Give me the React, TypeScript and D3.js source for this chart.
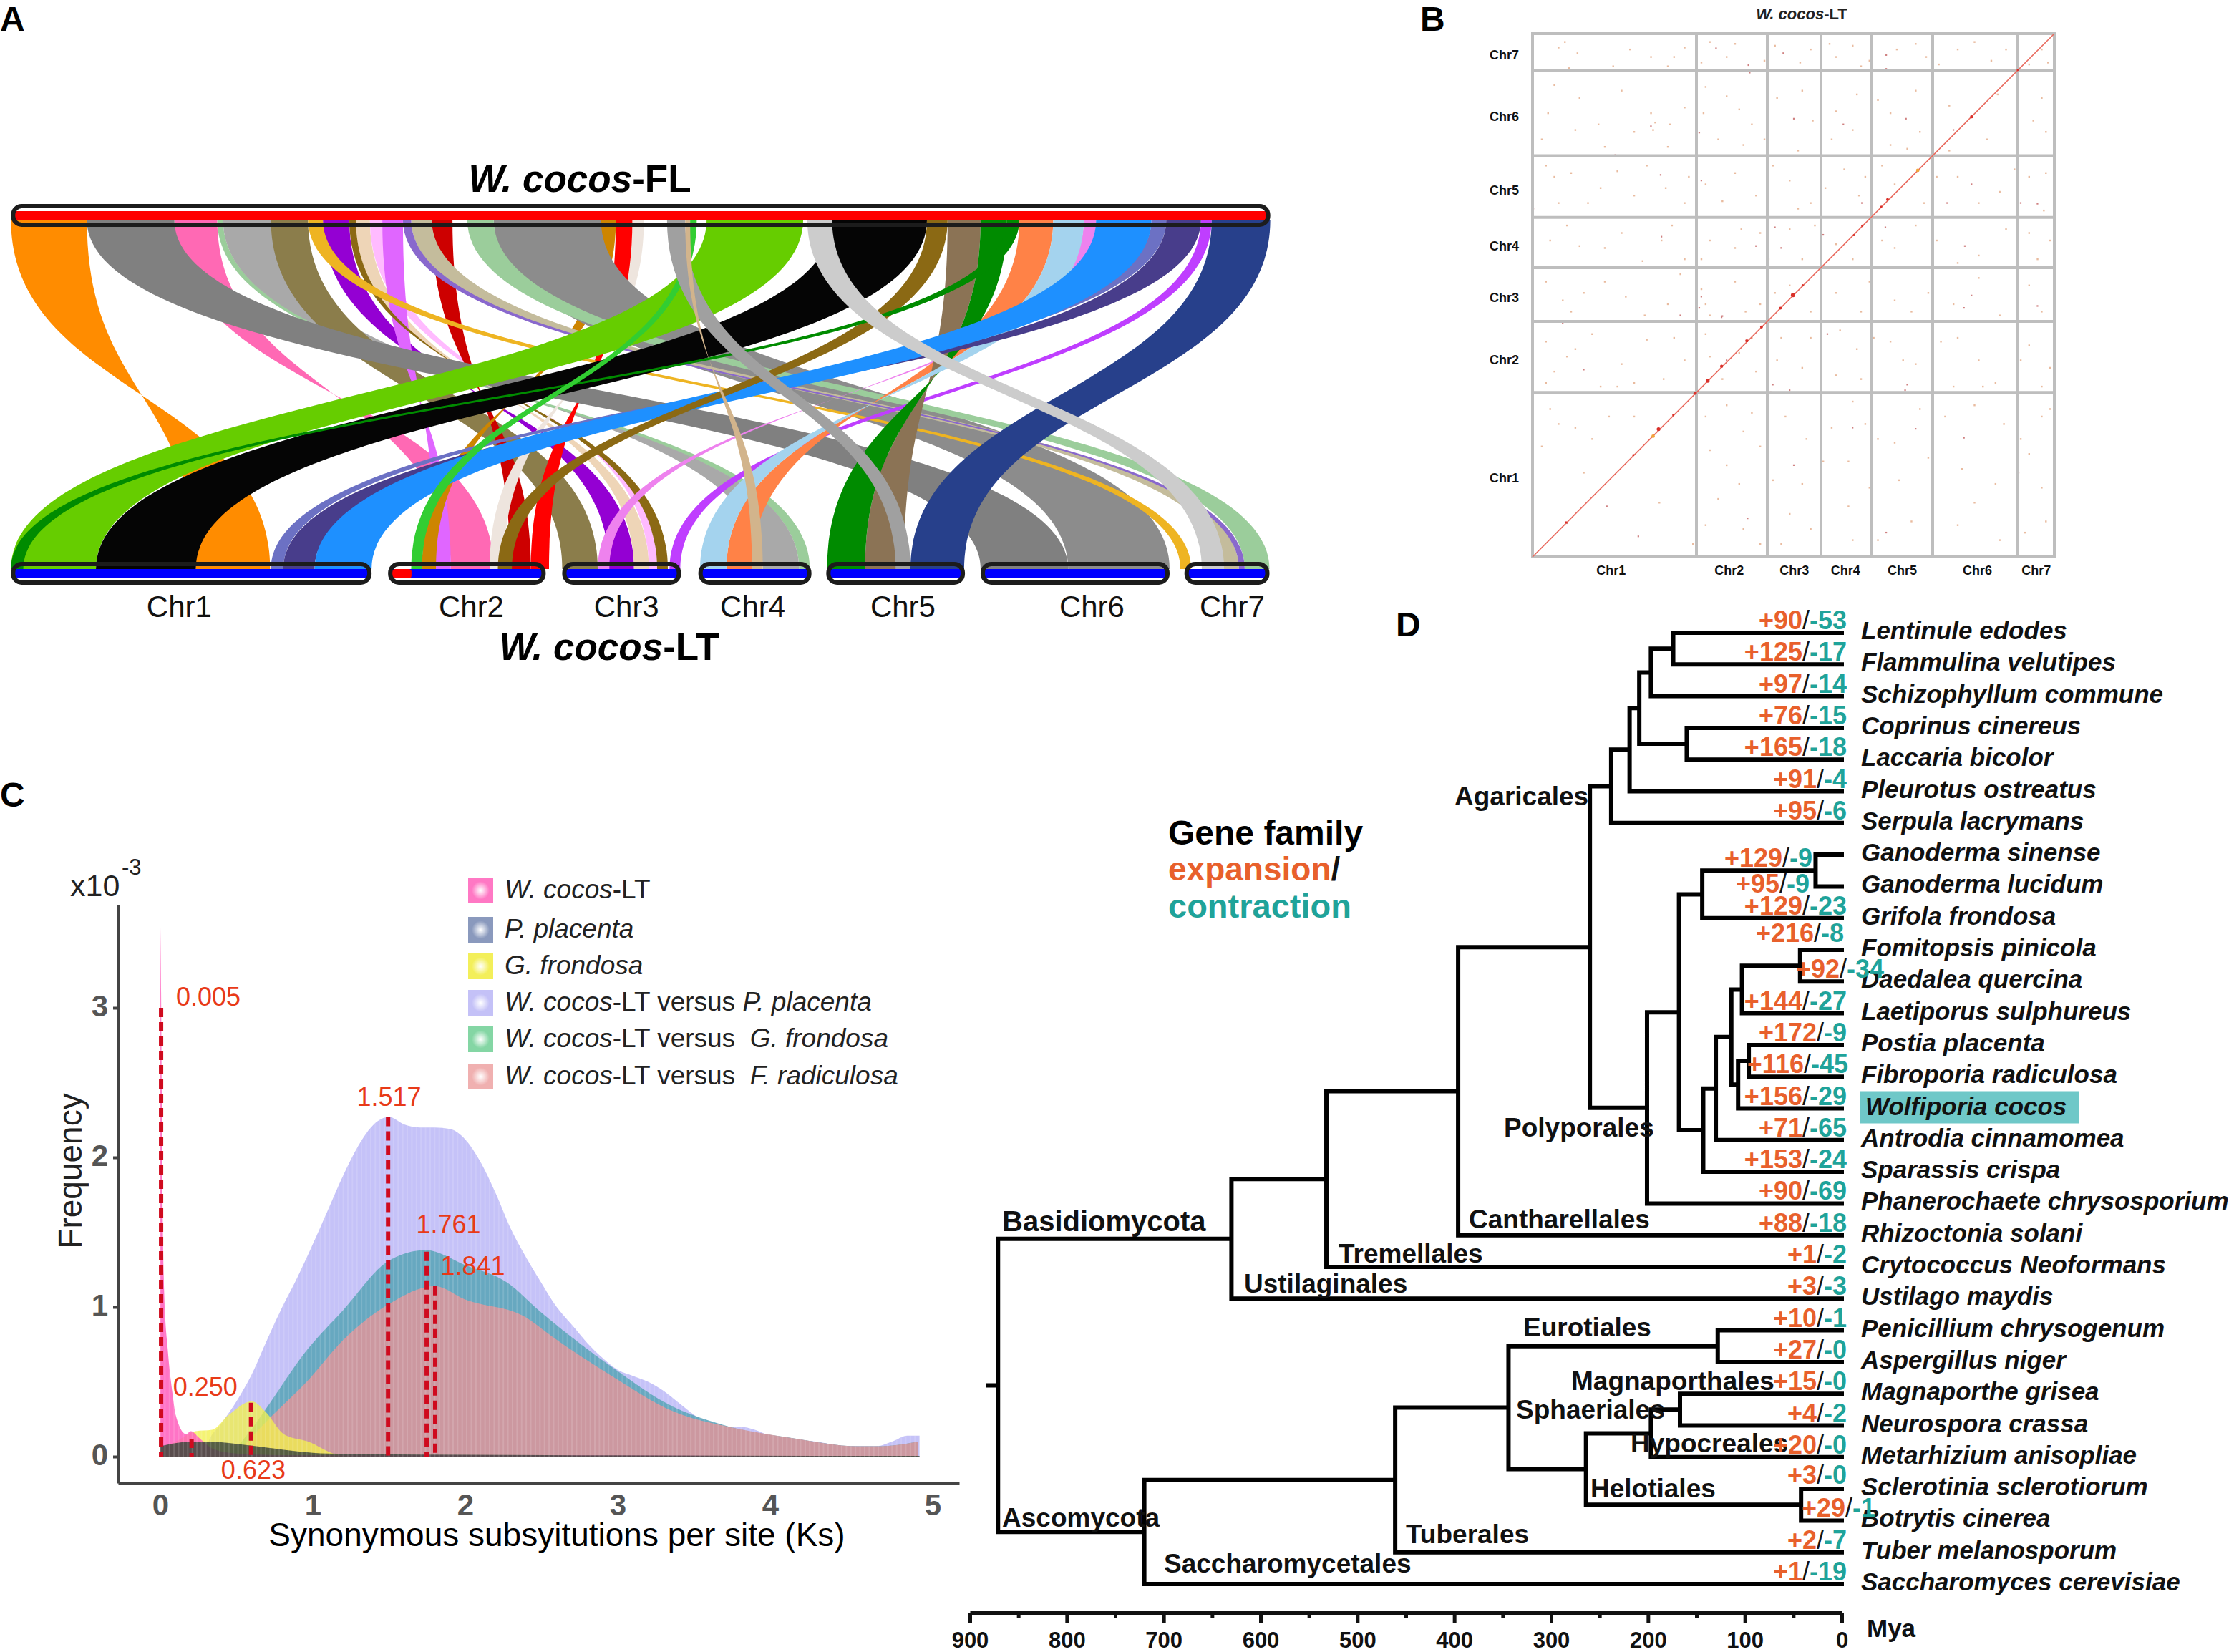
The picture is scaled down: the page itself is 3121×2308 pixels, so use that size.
import React, { useEffect, useRef } from "react";
import * as d3 from "d3";

type Sel = d3.Selection<SVGGElement, unknown, null, undefined>;
type Pair = [number, number];

const FONT = "'Liberation Sans', Arial, sans-serif";

// ---- A: synteny ribbons, positions along each genome
const ribbonTop: Pair[] = [
  [15, 107], [213, 265], [265, 272], [272, 330], [330, 375], [393, 425], [433, 450], [450, 465],
  [465, 490], [425, 433], [525, 550], [730, 748], [768, 782], [748, 768], [107, 213], [600, 730], [568, 600],
  [500, 525], [490, 500], [375, 393], [1457, 1470], [1315, 1330], [1237, 1278], [1150, 1190], [1190, 1222], [1278, 1315],
  [1397, 1415], [1415, 1457], [1330, 1397], [1125, 1150], [1470, 1541], [858, 975], [1010, 1125], [1222, 1237],
  [838, 846], [810, 832], [832, 838], [980, 1010],
];
const ribbonBottom: Pair[] = [
  [239, 329], [548, 600], [970, 983], [926, 970], [683, 726], [740, 770], [770, 788], [788, 798],
  [530, 548], [798, 811], [620, 645], [513, 530], [595, 612], [645, 667], [1190, 1296], [1296, 1419], [1510, 1540],
  [1485, 1503], [1503, 1510], [1432, 1445], [813, 826], [726, 740], [882, 913], [1050, 1097], [1004, 1050], [850, 882],
  [330, 345], [345, 383], [383, 452], [605, 622], [1105, 1170], [15, 118], [118, 239], [15, 30],
  [500, 513], [1087, 1105], [913, 926], [1458, 1485],
];
const ribbonColors = [
  "#ff8c00", "#ff69b4", "#9bcd9b", "#a9a9a9", "#8b7d4b", "#9400d3", "#eed5b7", "#ffbbff",
  "#e066ff", "#8b6914", "#cd0000", "#cd8500", "#eee5de", "#ff0000", "#808080", "#8c8c8c", "#9bcd9b",
  "#c4bc9c", "#8968cd", "#eeb422", "#bf3eff", "#ee82ee", "#ff8247", "#8b7355", "#008b00", "#a4d3ee",
  "#6c71c4", "#483d8b", "#1e90ff", "#8b6914", "#27408b", "#66cd00", "#050505", "#008b00",
  "#32cd32", "#a0a0a0", "#d2b48c", "#cccccc",
];
// inverted blocks: the ribbon turns over halfway, listed by their start on the upper genome
const invertedStarts = [15, 213, 272, 393, 433, 450, 465, 425, 525, 730, 768, 748, 1237, 1150, 1190, 1278, 1315, 1415, 832];
const chrNames = ["Chr1", "Chr2", "Chr3", "Chr4", "Chr5", "Chr6", "Chr7"];
const chrBars: Pair[] = [[15, 452], [472, 663], [683, 827], [848, 985], [1003, 1171], [1190, 1419], [1437, 1540]];
const chrLabelPos = [218, 572, 760, 913, 1095, 1324, 1494];

// ---- B: dot plot
const chrLengths = [229, 99, 75, 70, 86, 119, 51];
const dotLabelsX = [427, 708, 863, 985, 1120, 1299, 1439];
const dotLabelsY = [1277, 962, 795, 657, 508, 312, 148];
const diagonalSpots: [number, number, number][] = [
  [540, 1146, 2.6], [527, 1165, 2.4], [657, 1017, 2.6], [627, 1050, 2.2], [690, 978, 2.2], [750, 910, 2.2], [785, 873, 2],
  [860, 788, 3], [830, 823, 2], [883, 762, 1.6], [1005, 628, 1.6], [1025, 603, 1.6], [1085, 533, 2], [1157, 455, 2.4],
  [1285, 312, 2.2], [1395, 187, 1.6], [320, 1395, 1.5], [480, 1215, 1.5], [575, 1108, 1.5], [1070, 552, 1.5],
];
const dotsStrong: Pair[] = [
  [675, 127], [752, 172], [835, 140], [1080, 145], [1080, 182], [755, 192], [860, 315], [978, 330], [1127, 315], [1240, 345],
  [520, 335], [635, 352], [435, 412], [543, 465], [240, 555], [1283, 490], [1022, 540], [1078, 605], [1400, 540], [1440, 542],
  [1283, 787], [1265, 820], [1440, 815], [690, 842], [810, 1025], [850, 1040], [1130, 1025], [1150, 1143], [1265, 1167], [1192, 1262],
  [860, 1240], [1080, 1420], [1065, 1483], [700, 712], [1390, 910], [925, 970], [830, 660], [770, 655], [1267, 655], [815, 605],
  [640, 480], [930, 625], [700, 960], [1000, 1140], [1225, 540], [590, 840], [310, 860], [360, 985], [415, 1350], [490, 1430],
  [320, 1395], [640, 790], [635, 820], [688, 845], [805, 1045], [940, 890], [1125, 1040], [1395, 1260], [750, 1382], [545, 630],
];
const dotsFaint: Pair[] = [
  [300, 125], [325, 180], [430, 175], [520, 150], [575, 150], [600, 125], [700, 150], [660, 110], [790, 160], [900, 130], [960, 150],
  [1000, 120], [1040, 160], [1150, 115], [1175, 150], [1250, 130], [1330, 160], [1420, 170], [1450, 130], [290, 225], [350, 260],
  [450, 240], [520, 300], [600, 285], [650, 230], [730, 290], [760, 330], [820, 260], [880, 240], [960, 295], [1010, 250],
  [1090, 300], [1150, 240], [1230, 280], [1320, 370], [1430, 320], [1460, 350], [260, 370], [340, 345], [410, 390], [480, 350],
  [560, 390], [680, 370], [740, 385], [870, 400], [950, 370], [1090, 385], [1160, 350], [1230, 400], [290, 470], [330, 460],
  [300, 540], [400, 500], [480, 520], [600, 540], [650, 490], [720, 460], [770, 520], [850, 480], [900, 540], [980, 450],
  [1030, 470], [1100, 490], [1170, 540], [1250, 470], [1350, 510], [1420, 470], [1460, 460], [280, 640], [350, 655], [450, 620],
  [545, 640], [600, 690], [660, 640], [720, 660], [780, 620], [850, 610], [880, 690], [960, 650], [1100, 660], [1200, 640],
  [1300, 680], [1420, 620], [1440, 690], [270, 750], [310, 800], [360, 780], [460, 790], [560, 810], [640, 770], [660, 840],
  [720, 750], [780, 810], [850, 760], [960, 780], [1020, 830], [1100, 800], [1180, 780], [1240, 810], [1350, 840], [1420, 760],
  [1450, 830], [270, 910], [290, 990], [340, 930], [380, 890], [450, 970], [510, 905], [600, 960], [650, 890], [730, 940],
  [770, 990], [830, 900], [880, 980], [970, 880], [1010, 930], [1090, 910], [1150, 970], [1210, 910], [1300, 960], [1340, 1020],
  [1420, 920], [1470, 980], [1020, 1010], [1240, 1030], [270, 1020], [440, 1030], [550, 1010], [300, 1130], [340, 1140], [420, 1110],
  [650, 1110], [740, 1150], [840, 1110], [950, 1140], [1030, 1130], [1100, 1180], [1220, 1110], [1360, 1130], [1450, 1110],
  [260, 1190], [360, 1260], [700, 1240], [780, 1190], [880, 1290], [990, 1230], [1110, 1280], [1260, 1250], [1420, 1210], [540, 1340],
  [680, 1330], [740, 1410], [850, 1370], [990, 1350], [1140, 1390], [1290, 1340], [1410, 1420], [1060, 1440], [830, 1450], [620, 1450],
  [315, 110], [345, 140], [470, 130], [560, 175], [640, 165], [720, 115], [815, 120], [875, 165], [945, 115], [1020, 175],
  [1105, 130], [1205, 170], [1290, 110], [1365, 130], [1465, 165], [275, 300], [395, 330], [525, 345], [530, 325], [565, 330],
  [645, 300], [700, 255], [790, 370], [905, 320], [1000, 345], [1060, 265], [1130, 395], [1190, 300], [1345, 250], [1450, 260],
  [270, 440], [370, 540], [440, 455], [510, 440], [555, 500], [610, 470], [690, 535], [810, 440], [870, 555], [935, 500],
  [1015, 520], [1070, 440], [1200, 470], [1300, 540], [1385, 450], [1455, 560], [320, 600], [410, 660], [500, 695], [570, 600],
  [640, 690], [735, 610], [800, 690], [910, 600], [1000, 690], [1070, 640], [1150, 600], [1250, 700], [1365, 610], [1470, 640],
  [330, 830], [410, 750], [505, 840], [590, 730], [650, 810], [745, 830], [815, 780], [900, 830], [1040, 750], [1140, 830],
  [1300, 740], [1390, 800], [320, 950], [400, 1030], [480, 1020], [575, 900], [660, 950], [690, 1010], [760, 900], [820, 960],
  [900, 900], [960, 1000], [1050, 900], [1120, 960], [1190, 1020], [1250, 900], [1310, 1030], [1400, 960], [1450, 1030],
  [280, 1090], [380, 1170], [480, 1110], [700, 1080], [760, 1100], [890, 1170], [1000, 1070], [1060, 1170], [1160, 1090], [1290, 1080],
  [1400, 1170], [1470, 1090], [660, 1200], [730, 1290], [810, 1280], [930, 1230], [1040, 1300], [1180, 1220], [1340, 1290], [1450, 1300],
  [650, 1400], [780, 1450], [900, 1410], [1000, 1440], [1190, 1450], [1250, 1400], [1350, 1440], [1460, 1390],
];

// ---- C: Ks densities, [Ks, frequency x10^-3]
const ksLtVsPlacenta: Pair[] = [
  [0.3, 0], [0.31, 0.08], [0.4, 0.22], [0.5, 0.37], [0.6, 0.55], [0.7, 0.78], [0.8, 1.0], [0.9, 1.2], [1.0, 1.42], [1.1, 1.65], [1.2, 1.88],
  [1.3, 2.08], [1.4, 2.22], [1.5, 2.27], [1.6, 2.22], [1.7, 2.2], [1.8, 2.2], [1.9, 2.19], [2.0, 2.12], [2.1, 1.97], [2.2, 1.76],
  [2.3, 1.52], [2.4, 1.33], [2.5, 1.16], [2.6, 1.0], [2.7, 0.88], [2.8, 0.76], [2.9, 0.66], [3.0, 0.58], [3.1, 0.54], [3.2, 0.5],
  [3.3, 0.44], [3.4, 0.36], [3.5, 0.28], [3.6, 0.22], [3.7, 0.19], [3.8, 0.2], [3.9, 0.18], [4.0, 0.14], [4.1, 0.12], [4.3, 0.1],
  [4.5, 0.07], [4.7, 0.07], [4.8, 0.1], [4.9, 0.14], [4.98, 0.14],
];
const ksLtVsFrondosa: Pair[] = [
  [0.45, 0], [0.61, 0.2], [0.7, 0.33], [0.96, 0.71], [1.2, 0.98], [1.5, 1.31], [1.74, 1.38], [2.0, 1.28], [2.28, 1.16], [2.48, 0.98],
  [2.96, 0.6], [3.37, 0.33], [3.6, 0.24], [3.77, 0.19], [4.17, 0.12], [4.57, 0.07], [4.73, 0.07], [4.97, 0.1],
];
const ksLtVsRadiculosa: Pair[] = [
  [0.48, 0], [0.73, 0.27], [0.96, 0.5], [1.2, 0.78], [1.5, 1.02], [1.8, 1.14], [2.0, 1.05], [2.4, 0.93], [2.56, 0.81], [2.96, 0.54],
  [3.37, 0.3], [3.77, 0.19], [4.17, 0.12], [4.57, 0.07], [4.73, 0.07], [4.97, 0.1],
];
const ksFrondosa: Pair[] = [
  [0, 0.05], [0.1, 0.1], [0.23, 0.17], [0.34, 0.18], [0.45, 0.28], [0.6, 0.37], [0.69, 0.3], [0.81, 0.15], [0.97, 0.1], [1.15, 0.015], [1.25, 0],
];
const ksWcocos: Pair[] = [
  [0, 3.54], [0.005, 3.1], [0.012, 2], [0.025, 1.1], [0.05, 0.7], [0.08, 0.42], [0.1, 0.28], [0.17, 0.15], [0.2, 0.17], [0.26, 0.12],
  [0.35, 0.05], [0.5, 0.02], [0.8, 0.01], [1.2, 0.01], [4.98, 0],
];
const ksPlacenta: Pair[] = [
  [0, 0.07], [0.2, 0.1], [0.3, 0.1], [0.5, 0.085], [0.7, 0.06], [0.9, 0.035], [1.1, 0.02], [1.4, 0.015], [2, 0.012], [3, 0.008], [4.98, 0.005],
];
const peakKs = [0.005, 0.205, 0.595, 1.494, 1.747, 1.803];
const peakTop = [3.0, 0.12, 0.36, 2.27, 1.37, 1.14];
const peakLabels = ["0.005", "0.250", "0.623", "1.517", "1.761", "1.841"];
const peakLabelAt: Pair[] = [[0.315, 3.015], [0.295, 0.405], [0.61, -0.15], [1.5, 2.345], [1.89, 1.495], [2.05, 1.215]];
const legendColors = ["#ff78c4", "#8a99bd", "#f3ef5a", "#c4c1f7", "#84d6a4", "#f0b0b0"];
const legendLabels: [string, boolean][][] = [
  [["W. cocos", true], ["-LT", false]],
  [["P. placenta", true]],
  [["G. frondosa", true]],
  [["W. cocos", true], ["-LT versus ", false], ["P. placenta", true]],
  [["W. cocos", true], ["-LT versus  ", false], ["G. frondosa", true]],
  [["W. cocos", true], ["-LT versus  ", false], ["F. radiculosa", true]],
];

// ---- D: tree, node ages in Mya, tips have age 0
interface TreeNode { age: number; name?: string; gain?: number; loss?: number; children?: TreeNode[]; }
const tip = (name: string, gain: number, loss: number): TreeNode => ({ age: 0, name, gain, loss });
const treeData: TreeNode = {
  age: 871,
  children: [
    { age: 630, children: [
      { age: 532, children: [
        { age: 396, children: [
          { age: 260, children: [
            { age: 238, children: [
              { age: 219, children: [
                { age: 209, children: [
                  { age: 197, children: [
                    { age: 174, children: [tip("Lentinule edodes", 90, 53), tip("Flammulina velutipes", 125, 17)] },
                    tip("Schizophyllum commune", 97, 14),
                  ] },
                  { age: 160, children: [tip("Coprinus cinereus", 76, 15), tip("Laccaria bicolor", 165, 18)] },
                ] },
                tip("Pleurotus ostreatus", 91, 4),
              ] },
              tip("Serpula lacrymans", 95, 6),
            ] },
            { age: 201, children: [
              { age: 168, children: [
                { age: 144, children: [
                  { age: 27, children: [tip("Ganoderma sinense", 129, 9), tip("Ganoderma lucidum", 95, 9)] },
                  tip("Grifola frondosa", 129, 23),
                ] },
                { age: 143, children: [
                  { age: 130, children: [
                    { age: 114, children: [
                      { age: 103, children: [
                        { age: 43, children: [tip("Fomitopsis pinicola", 216, 8), tip("Daedalea quercina", 92, 34)] },
                        tip("Laetiporus sulphureus", 144, 27),
                      ] },
                      { age: 107, children: [
                        { age: 96, children: [tip("Postia placenta", 172, 9), tip("Fibroporia radiculosa", 116, 45)] },
                        tip("Wolfiporia cocos", 156, 29),
                      ] },
                    ] },
                    tip("Antrodia cinnamomea", 71, 65),
                  ] },
                  tip("Sparassis crispa", 153, 24),
                ] },
              ] },
              tip("Phanerochaete chrysosporium", 90, 69),
            ] },
          ] },
          tip("Rhizoctonia solani", 88, 18),
        ] },
        tip("Crytococcus Neoformans", 1, 2),
      ] },
      tip("Ustilago maydis", 3, 3),
    ] },
    { age: 720, children: [
      { age: 461, children: [
        { age: 344, children: [
          { age: 128, children: [tip("Penicillium chrysogenum", 10, 1), tip("Aspergillus niger", 27, 0)] },
          { age: 264, children: [
            { age: 197, children: [
              { age: 167, children: [tip("Magnaporthe grisea", 15, 0), tip("Neurospora crassa", 4, 2)] },
              tip("Metarhizium anisopliae", 20, 0),
            ] },
            { age: 42, children: [tip("Sclerotinia sclerotiorum", 3, 0), tip("Botrytis cinerea", 29, 1)] },
          ] },
        ] },
        tip("Tuber melanosporum", 2, 7),
      ] },
      tip("Saccharomyces cerevisiae", 1, 19),
    ] },
  ],
};
const cladeNames = ["Agaricales", "Polyporales", "Basidiomycota", "Cantharellales", "Tremellales", "Ustilaginales", "Eurotiales", "Magnaporthales", "Sphaeriales", "Hypocreales", "Helotiales", "Ascomycota", "Tuberales", "Saccharomycetales"];
const cladeAt: Pair[] = [[2032, 1125], [2101, 1588], [1400, 1720], [2052, 1716], [1870, 1764], [1738, 1806], [2128, 1867], [2195, 1942], [2118, 1982], [2278, 2029], [2222, 2092], [1400, 2133], [1964, 2156], [1626, 2197]];
// count labels that sit off their usual spot, by row: [dx, dy]
const countShift: Record<number, Pair> = { 7: [-48, 22], 8: [-52, 14], 10: [-4, -6], 11: [52, 0], 14: [2, 0], 28: [40, 0], 27: [0, -2] };

const addText = (g: Sel, x: number, y: number, parts: [string, boolean][], size: number, fill = "#000", weight = "normal", anchor = "start") => {
  const t = g.append("text").attr("x", x).attr("y", y).attr("font-size", size).attr("font-weight", weight)
    .attr("font-family", FONT).attr("fill", fill).attr("text-anchor", anchor).attr("xml:space", "preserve");
  parts.forEach(([s, it]) => t.append("tspan").attr("font-style", it ? "italic" : "normal").text(s));
  return t;
};

function drawRibbons(g: Sel) {
  const x = d3.scaleLinear().domain([0, 1563]).range([-2, 1800]);
  const yTop = 307;
  const yBot = 795;
  const edge = d3.linkVertical<unknown, Pair, Pair>().x((d) => x(d[0])).y((d) => d[1]);
  const drawBar = (lo: number, hi: number, y0: number, fill: string) => {
    g.append("rect").attr("x", x(lo) + 3).attr("width", x(hi) - x(lo) - 6).attr("y", y0 + 7).attr("height", 13).attr("fill", fill);
  };

  g.append("rect").attr("x", x(15)).attr("y", 288).attr("width", x(1541) - x(15)).attr("height", 25).attr("fill", "#fff");
  chrBars.forEach((b) => g.append("rect").attr("x", x(b[0])).attr("y", 789).attr("width", x(b[1]) - x(b[0])).attr("height", 24).attr("fill", "#fff"));

  ribbonTop.forEach((t, i) => {
    const inverted = invertedStarts.includes(t[0]);
    const [b0, b1] = inverted ? [ribbonBottom[i][1], ribbonBottom[i][0]] : ribbonBottom[i];
    const left = edge({ source: [t[0], yTop], target: [b0, yBot] } as any) as string;
    const right = edge({ source: [b1, yBot], target: [t[1], yTop] } as any) as string;
    g.append("path").attr("d", left + right.replace("M", "L") + "Z").attr("fill", ribbonColors[i]);
  });

  drawBar(15, 1541, 288, "#ff0000");
  chrBars.forEach((b) => drawBar(b[0], b[1], 788, "#0000ff"));
  g.append("rect").attr("x", x(477)).attr("y", 795).attr("width", 27).attr("height", 13).attr("rx", 4).attr("fill", "#ff0000");

  const outline = (lo: number, hi: number, y0: number) =>
    g.append("rect").attr("x", x(lo) + 3).attr("y", y0).attr("width", x(hi) - x(lo) - 6).attr("height", 26).attr("rx", 12)
      .attr("fill", "none").attr("stroke", "#1c1c1c").attr("stroke-width", 6);
  outline(15, 1541, 288);
  chrBars.forEach((b) => outline(b[0], b[1], 788));

  chrNames.forEach((n, i) => addText(g, x(chrLabelPos[i]) + 1, 862, [[n, false]], 42, "#111", "normal", "middle"));
  addText(g, 810, 268, [["W. cocos", true], ["-FL", false]], 53, "#000", "bold", "middle");
  addText(g, 851, 922, [["W. cocos", true], ["-LT", false]], 53, "#000", "bold", "middle");
}

function drawDotplot(g: Sel) {
  const total = d3.sum(chrLengths);
  const pos = d3.scaleLinear().domain([0, total]).range([2141, 2870]);
  const posY = d3.scaleLinear().domain([0, total]).range([778, 47]);
  const dx = d3.scaleLinear().domain([240, 1482]).range([2141, 2870]);
  const dy = d3.scaleLinear().domain([1487, 90]).range([778, 47]);
  const cuts = d3.cumsum(chrLengths);

  dotsFaint.forEach((d) => g.append("rect").attr("x", dx(d[0])).attr("y", dy(d[1])).attr("width", 2.4).attr("height", 2.4).attr("fill", "#e9bb9f"));
  dotsStrong.forEach((d) => g.append("rect").attr("x", dx(d[0])).attr("y", dy(d[1])).attr("width", 2.2).attr("height", 2.2).attr("fill", "#cf8080"));

  [0, ...cuts].forEach((c) => {
    g.append("line").attr("x1", pos(c)).attr("x2", pos(c)).attr("y1", 47).attr("y2", 778).attr("stroke", "#bebebe").attr("stroke-width", 4);
    g.append("line").attr("x1", 2139).attr("x2", 2872).attr("y1", posY(c)).attr("y2", posY(c)).attr("stroke", "#bebebe").attr("stroke-width", 4);
  });
  g.append("line").attr("x1", pos(0)).attr("y1", posY(0)).attr("x2", pos(total)).attr("y2", posY(total)).attr("stroke", "#e8685c").attr("stroke-width", 1.6);
  diagonalSpots.forEach((d) => g.append("circle").attr("cx", dx(d[0])).attr("cy", dy(d[1])).attr("r", d[2]).attr("fill", d[0] === 527 || d[0] === 1157 ? "#f2a33a" : "#d9302a"));

  chrNames.forEach((n, i) => {
    addText(g, dx(dotLabelsX[i]), 803, [[n, false]], 18, "#111", "bold", "middle");
    addText(g, 2122, dy(dotLabelsY[i]) + 6, [[n, false]], 18, "#111", "bold", "end");
  });
  addText(g, 2517, 27, [["W. cocos", true], ["-LT", false]], 22, "#222", "bold", "middle");
}

function drawDensity(g: Sel) {
  const x = d3.scaleLinear().domain([-0.277, 5.24]).range([165, 1340]);
  const y = d3.scaleLinear().domain([-0.177, 3.689]).range([2072, 1264]);
  const area = d3.area<Pair>().x((d) => x(d[0])).y0(y(0)).y1((d) => y(d[1])).curve(d3.curveMonotoneX);

  const defs = g.append("defs");
  const clip = defs.append("clipPath").attr("id", "ks-clip");
  const layers: [Pair[], string, number][] = [
    [ksLtVsPlacenta, "#c5c2f8", 1],
    [ksLtVsFrondosa, "#62a7bd", 0.95],
    [ksLtVsRadiculosa, "#cf989f", 0.97],
    [ksFrondosa, "#f2ef4c", 0.78],
    [ksWcocos, "#ff5cbc", 0.85],
    [ksPlacenta, "#3c463c", 0.85],
  ];
  layers.forEach(([pts, fill, op]) => {
    g.append("path").attr("d", area(pts)).attr("fill", fill).attr("fill-opacity", op);
    clip.append("path").attr("d", area(pts));
  });
  // fine vertical bars of the histogram show through the fill
  g.append("g").attr("clip-path", "url(#ks-clip)").selectAll("line").data(d3.range(0, 4.98, 0.03)).join("line")
    .attr("x1", (d) => x(d)).attr("x2", (d) => x(d)).attr("y1", y(3.6)).attr("y2", y(0)).attr("stroke", "#fff").attr("stroke-opacity", 0.14).attr("stroke-width", 2);

  peakKs.forEach((k, i) => {
    g.append("line").attr("x1", x(k)).attr("x2", x(k)).attr("y1", y(peakTop[i])).attr("y2", y(0))
      .attr("stroke", "#cf0a1e").attr("stroke-width", 6).attr("stroke-dasharray", "13 7");
    addText(g, x(peakLabelAt[i][0]), y(peakLabelAt[i][1]), [[peakLabels[i], false]], 36, "#e83a18", "normal", "middle");
  });

  const xAxis = g.append("g").attr("transform", `translate(0,${y(-0.177)})`)
    .call(d3.axisBottom(x).tickValues([0, 1, 2, 3, 4, 5]).tickFormat(d3.format("d")).tickSize(0).tickSizeOuter(0));
  const yAxis = g.append("g").attr("transform", `translate(${x(-0.277)},0)`)
    .call(d3.axisLeft(y).tickValues([0, 1, 2, 3]).tickFormat(d3.format("d")).tickSize(7).tickSizeOuter(0));
  [xAxis, yAxis].forEach((a) => {
    a.select(".domain").attr("stroke", "#444").attr("stroke-width", 5);
    a.selectAll(".tick line").attr("stroke", "#444").attr("stroke-width", 4);
    a.selectAll(".tick text").attr("font-size", 42).attr("font-weight", "bold").attr("font-family", FONT).attr("fill", "#555");
  });
  xAxis.selectAll(".tick text").attr("y", 45).attr("dy", 0).attr("dx", (d: any) => (d === 5 ? 14 : 0));
  yAxis.selectAll(".tick text").attr("x", -14).attr("dy", "0.28em");

  addText(g, 778, 2160, [["Synonymous subsyitutions per site (Ks)", false]], 46, "#000", "normal", "middle");
  addText(g, 0, 0, [["Frequency", false]], 46, "#222", "normal", "middle").attr("transform", "translate(114,1636) rotate(-90)");
  addText(g, 98, 1252, [["x10", false]], 43, "#222");
  addText(g, 170, 1222, [["-3", false]], 31, "#222");

  legendColors.forEach((c, i) => {
    const id = `legend-glow-${i}`;
    const grad = defs.append("radialGradient").attr("id", id);
    grad.append("stop").attr("offset", "0%").attr("stop-color", "#fff");
    grad.append("stop").attr("offset", "70%").attr("stop-color", c);
    const ly = [1244, 1299, 1350, 1401, 1452, 1504][i];
    g.append("rect").attr("x", 654).attr("y", ly - 18).attr("width", 35).attr("height", 36).attr("fill", `url(#${id})`);
    addText(g, 705, ly + 11, legendLabels[i], 37, "#222");
  });
}

function drawTree(g: Sel) {
  const x = d3.scaleLinear().domain([900, 0]).range([1355, 2573]);
  const root = d3.hierarchy(treeData);
  const leaves = root.leaves();
  const row = d3.scaleLinear().domain([0, leaves.length - 1]).range([884, 2213]);
  leaves.forEach((l, i) => ((l as any).y = row(i)));
  root.eachAfter((n: any) => { if (n.children) n.y = d3.mean(n.children, (c: any) => c.y); });

  g.append("rect").attr("x", 2598).attr("y", row(15) - 24).attr("width", 306).attr("height", 45).attr("fill", "#6fc8c8");

  const p = d3.path();
  root.descendants().forEach((n: any) => {
    if (n.parent) {
      p.moveTo(x(n.parent.data.age), n.y);
      p.lineTo(x(n.data.age), n.y);
    }
    if (n.children) {
      p.moveTo(x(n.data.age), n.children[0].y);
      p.lineTo(x(n.data.age), n.children[n.children.length - 1].y);
    }
  });
  p.moveTo(1380, (root as any).y);
  p.lineTo(x(root.data.age), (root as any).y);
  g.append("path").attr("d", p.toString()).attr("fill", "none").attr("stroke", "#000").attr("stroke-width", 6).attr("stroke-linecap", "square");

  cladeNames.forEach((n, i) => addText(g, cladeAt[i][0], cladeAt[i][1], [[n, false]], n === "Basidiomycota" ? 40 : 37, "#111", "bold"));

  leaves.forEach((l, i) => {
    const name = l.data.name as string;
    addText(g, name.startsWith("Wolfiporia") ? 2606 : 2600, row(i) + 9, [[name, true]], 35, "#111", "bold");
    const [sx, sy] = countShift[i] || [0, 0];
    const t = g.append("text").attr("x", 2580 + sx).attr("y", row(i) - 5 + sy).attr("text-anchor", "end")
      .attr("font-family", FONT).attr("font-size", 36).attr("font-weight", "bold");
    t.append("tspan").attr("fill", "#e8602c").text(`+${l.data.gain}`);
    t.append("tspan").attr("fill", "#111").attr("font-weight", "normal").text("/");
    t.append("tspan").attr("fill", "#1fa39a").text(`-${l.data.loss}`);
  });

  const axis = g.append("g").attr("transform", "translate(0,2253)")
    .call(d3.axisBottom(x).tickValues(d3.range(0, 901, 50)).tickFormat((d) => (+d % 100 ? "" : String(d))).tickSizeOuter(0));
  axis.select(".domain").attr("stroke", "#111").attr("stroke-width", 5);
  axis.selectAll(".tick line").attr("stroke", "#111").attr("stroke-width", 5).attr("y2", (d: any) => (d % 100 ? 8 : 15));
  axis.selectAll(".tick text").attr("y", 49).attr("dy", 0).attr("font-size", 31).attr("font-weight", "bold").attr("font-family", FONT).attr("fill", "#111");
  addText(g, 2608, 2287, [["Mya", false]], 35, "#111", "bold");

  addText(g, 1632, 1180, [["Gene family", false]], 48, "#000", "bold");
  const exp = addText(g, 1632, 1230, [["expansion", false]], 46, "#e8602c", "bold");
  exp.append("tspan").attr("fill", "#111").text("/");
  addText(g, 1632, 1282, [["contraction", false]], 47, "#1fa39a", "bold");
}

const App: React.FC = () => {
  const svgRef = useRef<SVGSVGElement | null>(null);

  useEffect(() => {
    if (!svgRef.current) return;
    const svg = d3.select(svgRef.current);
    svg.selectAll("*").remove();
    const g = svg.append("g") as unknown as Sel;
    drawRibbons(g);
    drawDotplot(g);
    drawDensity(g);
    drawTree(g);
    // panel letters
    addText(g, 0, 43, [["A", false]], 48, "#000", "bold");
    addText(g, 1984, 43, [["B", false]], 48, "#000", "bold");
    addText(g, 0, 1127, [["C", false]], 48, "#000", "bold");
    addText(g, 1950, 889, [["D", false]], 48, "#000", "bold");
  }, []);

  return <svg ref={svgRef} width={3121} height={2308} style={{ position: "absolute", left: 0, top: 0, background: "#fff" }}></svg>;
};

export default App;
